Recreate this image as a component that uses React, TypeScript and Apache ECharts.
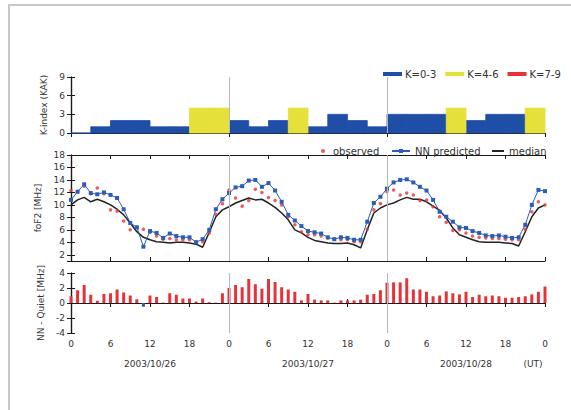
import React, { useEffect, useRef } from "react";
import * as echarts from "echarts";

// Hourly UT sample times: 2003/10/26 00 UT through 2003/10/29 00 UT
const hours: number[] = Array.from({ length: 73 }, (_, h) => h);

// Kakioka K-index, one value per 3-hour interval (interval start hour)
const kStartHours = [0, 3, 6, 9, 12, 15, 18, 21, 24, 27, 30, 33, 36, 39, 42, 45, 48, 51, 54, 57, 60, 63, 66, 69];
const kIndex = [0, 1, 2, 2, 1, 1, 4, 4, 2, 1, 2, 4, 1, 3, 2, 1, 3, 3, 3, 4, 2, 3, 3, 4];
const K_SPAN_HOURS = 3;

// foF2 [MHz], hourly
const foF2Observed = [
  12.3, 12.2, 13.0, 11.8, 12.7, 11.8, 9.2, 9.0, 7.4, 6.0, 6.4, 6.1, 5.6, 5.0, 4.5, 4.6, 4.4, 4.4, 4.4, 4.1, 4.1, 5.5, 8.5, 10.2,
  12.4, 11.1, 9.8, 10.7, 12.5, 12.0, 11.2, 10.7, 10.0, 8.1, 6.8, 5.7, 5.2, 5.2, 5.0, 4.7, 4.5, 4.4, 4.4, 4.1, 4.1, 6.1, 9.2, 10.2,
  12.1, 12.4, 11.6, 11.9, 11.6, 10.7, 10.8, 9.7, 8.1, 7.2, 5.9, 6.0, 5.5, 5.0, 4.8, 4.7, 4.6, 4.6, 4.5, 4.4, 4.4, 6.1, 8.9, 10.5, 10.0,
];
const foF2Predicted = [
  10.8, 12.1, 13.3, 11.9, 11.7, 12.0, 11.6, 11.1, 9.3, 7.1, 6.4, 3.3, 5.8, 5.5, 4.7, 5.4, 5.0, 4.8, 4.8, 4.0, 4.5, 6.0, 9.3, 10.9,
  11.9, 12.8, 13.0, 13.9, 14.0, 12.9, 13.5, 12.3, 10.5, 8.4, 7.5, 6.6, 5.8, 5.6, 5.4, 4.8, 4.5, 4.8, 4.7, 4.4, 4.4, 7.3, 10.3, 11.3,
  12.6, 13.6, 14.0, 14.1, 13.6, 12.9, 12.3, 10.8, 8.9, 8.1, 7.3, 6.4, 6.3, 5.8, 5.5, 5.1, 5.0, 5.1, 4.9, 4.7, 4.8, 6.8, 10.0, 12.4, 12.2,
];
const foF2Median = [
  10.0, 10.8, 11.2, 10.5, 10.9, 10.5, 10.0, 9.3, 8.4, 7.1, 5.7, 4.8, 4.4, 4.1, 4.0, 3.9, 4.0, 4.0, 3.9, 3.7, 3.2, 5.6, 8.1, 9.2,
  9.7, 10.3, 10.7, 11.1, 10.8, 10.9, 10.3, 9.6, 8.7, 7.6, 6.0, 5.5, 4.8, 4.3, 4.1, 3.9, 3.8, 3.8, 3.9, 3.6, 3.1, 6.0, 8.7, 9.5,
  10.0, 10.3, 10.8, 11.2, 10.9, 10.9, 10.5, 9.8, 9.1, 7.9, 6.3, 5.2, 4.8, 4.4, 4.1, 4.0, 4.0, 4.0, 3.9, 3.8, 3.4, 5.7, 8.1, 9.5, 10.0,
];

// NN prediction minus quiet-day level [MHz], hourly
const nnMinusQuiet = [
  0.9, 1.7, 2.4, 1.1, 0.3, 1.2, 1.3, 1.8, 1.4, 1.0, 0.5, -0.5, 1.0, 0.8, 0.05, 1.3, 1.1, 0.6, 0.6, 0.2, 0.6, 0.1, 0.05, 1.3,
  2.0, 2.4, 2.1, 3.2, 2.5, 1.9, 3.2, 2.8, 2.1, 1.8, 1.5, 0.35, 1.2, 0.45, 0.35, 0.35, 0.05, 0.35, 0.35, 0.35, 0.45, 1.1, 1.2, 1.7,
  2.7, 2.75, 2.75, 3.3, 1.8, 1.8, 1.5, 0.9, 1.0, 1.55, 1.3, 1.15, 1.5, 0.8, 1.1, 0.9, 1.0, 0.9, 0.7, 0.7, 0.8, 0.9, 1.15, 1.5, 2.2,
];

const dayLabels = ["2003/10/26", "2003/10/27", "2003/10/28"];
const dayBoundaries = [24, 48];

const kLevels = [
  { name: "K=0-3", lo: 0, hi: 3, color: "#1f4ea6" },
  { name: "K=4-6", lo: 4, hi: 6, color: "#e6e03a" },
  { name: "K=7-9", lo: 7, hi: 9, color: "#e8313a" },
];

const FONT = "DejaVu Sans";
const TEXT = "#333";
const FRAME = "#1a1a1a";
const RED = "#e8323a";
const BLUE = "#2a5cb8";

const frameLine = { show: true, lineStyle: { color: FRAME, width: 1.2 } };
const innerTicks = { show: true, inside: true, length: 4, lineStyle: { color: FRAME, width: 1 } };

function hourAxis(gridIndex: number, position: "top" | "bottom", opts: any = {}) {
  return {
    type: "value",
    gridIndex,
    position,
    min: 0,
    max: 72,
    interval: 6,
    axisLine: frameLine,
    axisTick: innerTicks,
    axisLabel: { show: false },
    splitLine: { show: false },
    ...opts,
  };
}

function valueAxis(gridIndex: number, position: "left" | "right", opts: any = {}) {
  return {
    type: "value",
    gridIndex,
    position,
    axisLine: frameLine,
    axisTick: innerTicks,
    axisLabel: position === "left"
      ? { show: true, fontSize: 9, color: TEXT, fontFamily: FONT, margin: 6 }
      : { show: false },
    splitLine: { show: false },
    nameLocation: "middle",
    nameTextStyle: { fontSize: 9, color: TEXT, fontFamily: FONT },
    ...opts,
  };
}

function dayLineSeries(gridIndex: number) {
  return {
    type: "line",
    xAxisIndex: [0, 2, 4][gridIndex],
    yAxisIndex: [0, 2, 4][gridIndex],
    data: [],
    symbol: "none",
    silent: true,
    z: 1,
    markLine: {
      silent: true,
      symbol: "none",
      label: { show: false },
      lineStyle: { color: "#b8b8b8", width: 1, type: "solid" },
      data: dayBoundaries.map((h) => ({ xAxis: h })),
    },
  };
}

export default function App() {
  const ref = useRef<HTMLDivElement>(null);

  useEffect(() => {
    if (!ref.current) return;
    const chart = echarts.init(ref.current, undefined, { renderer: "svg" });

    const kSeries = kLevels.map((level) => ({
      type: "custom",
      name: level.name,
      xAxisIndex: 0,
      yAxisIndex: 0,
      itemStyle: { color: level.color },
      encode: { x: [0, 1], y: 2 },
      data: kStartHours
        .map((s, i) => [s, s + K_SPAN_HOURS, kIndex[i]])
        .filter((d) => d[2] >= level.lo && d[2] <= level.hi),
      renderItem: (_params: any, api: any) => {
        const top = api.coord([api.value(0), api.value(2)]);
        const base = api.coord([api.value(1), 0]);
        return {
          type: "rect",
          shape: { x: top[0], y: top[1], width: base[0] - top[0], height: base[1] - top[1] },
          style: { fill: level.color, stroke: level.color, lineWidth: 0.8 },
        };
      },
      z: 2,
    }));

    const legendText = { fontSize: 10, color: TEXT, fontFamily: FONT };

    chart.setOption({
      animation: false,
      textStyle: { fontFamily: FONT, color: TEXT },
      grid: [
        { left: 71, right: 26, top: 77, height: 56 },
        { left: 71, right: 26, top: 155, height: 106 },
        { left: 71, right: 26, top: 273, height: 60 },
      ],
      legend: [
        {
          data: kLevels.map((l) => ({ name: l.name, icon: "rect" })),
          left: 378,
          top: 64,
          itemWidth: 19,
          itemHeight: 4,
          itemGap: 9,
          selectedMode: false,
          textStyle: { ...legendText, padding: [0, 0, 0, -2] },
        },
        {
          data: [{ name: "observed", icon: "circle" }],
          left: 316,
          top: 141,
          itemWidth: 10,
          itemHeight: 4,
          selectedMode: false,
          textStyle: legendText,
        },
        {
          data: ["NN predicted"],
          left: 386,
          top: 141,
          itemWidth: 18,
          itemHeight: 5,
          selectedMode: false,
          textStyle: legendText,
        },
        {
          data: [{ name: "median", icon: "rect" }],
          left: 487,
          top: 141,
          itemWidth: 12,
          itemHeight: 2,
          selectedMode: false,
          textStyle: legendText,
        },
      ],
      xAxis: [
        hourAxis(0, "bottom", { axisTick: { show: false } }),
        hourAxis(0, "top", { interval: 24 }),
        hourAxis(1, "bottom"),
        hourAxis(1, "top"),
        hourAxis(2, "bottom", {
          axisLabel: {
            show: true,
            fontSize: 9,
            color: TEXT,
            fontFamily: FONT,
            margin: 6,
            formatter: (v: number) => String(v % 24),
          },
        }),
        hourAxis(2, "top"),
        {
          type: "category",
          gridIndex: 2,
          position: "bottom",
          offset: 20,
          data: dayLabels,
          boundaryGap: true,
          axisLine: { show: false },
          axisTick: { show: false },
          axisLabel: { show: true, fontSize: 9, color: TEXT, fontFamily: FONT, margin: 6 },
          splitLine: { show: false },
        },
      ],
      yAxis: [
        valueAxis(0, "left", { min: 0, max: 9, interval: 3, name: "K-index (KAK)", nameGap: 20 }),
        valueAxis(0, "right", { min: 0, max: 9, interval: 3 }),
        valueAxis(1, "left", {
          min: 1,
          max: 18,
          splitNumber: 9,
          name: "foF2 [MHz]",
          nameGap: 23,
          axisLabel: { show: true, fontSize: 9, color: TEXT, fontFamily: FONT, margin: 6, showMinLabel: false },
        }),
        valueAxis(1, "right", { min: 1, max: 18, splitNumber: 9 }),
        valueAxis(2, "left", { min: -4, max: 4, interval: 2, name: "NN - Quiet [MHz]", nameGap: 26 }),
        valueAxis(2, "right", { min: -4, max: 4, interval: 2 }),
      ],
      series: [
        dayLineSeries(0),
        dayLineSeries(1),
        dayLineSeries(2),
        ...kSeries,
        {
          type: "line",
          name: "median",
          xAxisIndex: 2,
          yAxisIndex: 2,
          data: hours.map((h, i) => [h, foF2Median[i]]),
          symbol: "none",
          itemStyle: { color: "#222" },
          lineStyle: { color: "#222", width: 1.5 },
          z: 2,
        },
        {
          type: "scatter",
          name: "observed",
          xAxisIndex: 2,
          yAxisIndex: 2,
          data: hours.map((h, i) => [h, foF2Observed[i]]),
          symbol: "circle",
          symbolSize: 3.5,
          itemStyle: { color: RED },
          z: 3,
        },
        {
          type: "line",
          name: "NN predicted",
          xAxisIndex: 2,
          yAxisIndex: 2,
          data: hours.map((h, i) => [h, foF2Predicted[i]]),
          symbol: "rect",
          symbolSize: 4,
          itemStyle: { color: BLUE },
          lineStyle: { color: BLUE, width: 1 },
          z: 4,
        },
        {
          type: "bar",
          name: "NN - Quiet",
          xAxisIndex: 4,
          yAxisIndex: 4,
          data: hours.map((h, i) => [h, nnMinusQuiet[i]]),
          barWidth: 3,
          itemStyle: {
            color: (p: any) => (p.value[1] < 0 ? BLUE : RED),
          },
          z: 2,
        },
      ],
      graphic: [
        {
          type: "rect",
          silent: true,
          shape: { x: 9, y: 5, width: 620, height: 460 },
          style: { fill: "none", stroke: "#c8c8c8", lineWidth: 2 },
        },
        {
          type: "text",
          silent: true,
          x: 533,
          y: 364,
          style: {
            text: "(UT)",
            fontSize: 9,
            fontFamily: FONT,
            fill: TEXT,
            align: "center",
            verticalAlign: "middle",
          },
        },
      ],
    });

    return () => chart.dispose();
  }, []);

  return (
    <div
      ref={ref}
      style={{ position: "fixed", left: 0, top: 0, width: 571, height: 410, background: "#fff" }}
    />
  );
}
